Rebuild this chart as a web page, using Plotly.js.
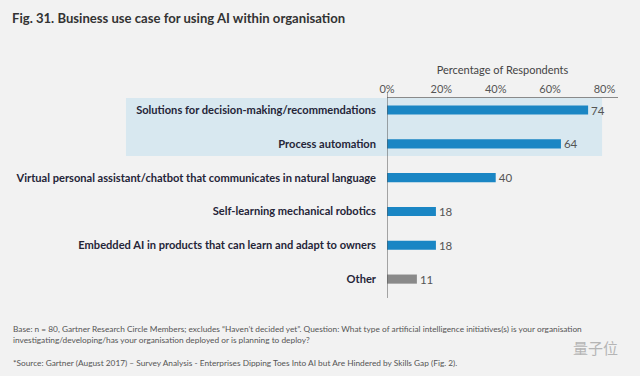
<!DOCTYPE html>
<html><head><meta charset="utf-8">
<script src="https://cdn.plot.ly/plotly-3.0.1.min.js"></script>
<style>html,body{margin:0;padding:0;background:#f2f2f2;}</style>
</head><body><div id="chart" style="width:640px;height:376px;"></div>
<script>
const categories = [
  "Solutions for decision-making/recommendations",
  "Process automation",
  "Virtual personal assistant/chatbot that communicates in natural language",
  "Self-learning mechanical robotics",
  "Embedded AI in products that can learn and adapt to owners",
  "Other"
];
const values = [74, 64, 40, 18, 18, 11];
const barColors = ["#1a86c4", "#1a86c4", "#1a86c4", "#1a86c4", "#1a86c4", "#8a8a8a"];
const tickValues = [0, 20, 40, 60, 80];
const tickLabels = ["0%", "20%", "40%", "60%", "80%"];

const trace = {
  type: "bar", orientation: "h",
  y: categories, x: values,
  marker: {color: barColors},
  width: 0.27,
  text: values.map(String), textposition: "outside", constraintext: "none",
  textfont: {family: "Lato, 'Open Sans', sans-serif", size: 11.5, color: "#555"},
  cliponaxis: false, hoverinfo: "none"
};

const layout = {
  width: 640, height: 376,
  paper_bgcolor: "#f2f2f2", plot_bgcolor: "rgba(0,0,0,0)",
  margin: {l: 387, r: 22, t: 98, b: 80},
  showlegend: false,
  font: {family: "Lato, 'Open Sans', sans-serif"},
  xaxis: {
    side: "top", range: [0, 85], tickvals: tickValues, ticktext: tickLabels,
    showgrid: false, zeroline: false, showline: true, linecolor: "#8a8a8a", linewidth: 1,
    ticks: "", tickfont: {size: 11, color: "#555"},
    title: {text: "Percentage of Respondents", font: {size: 11, color: "#444"}, standoff: 4},
    fixedrange: true
  },
  yaxis: {
    range: [5.5, -0.355], showgrid: false, zeroline: false, showline: false, ticks: "",
    tickfont: {size: 11.1, color: "#252538", weight: "bold"},
    ticklabelstandoff: 10, fixedrange: true
  },
  shapes: [
    {type: "rect", xref: "paper", yref: "paper", x0: -1.13, x1: 0.931, y0: 0.707, y1: 1,
     fillcolor: "#d8e8f0", line: {width: 0}, layer: "below"},
    {type: "line", xref: "x", yref: "paper", x0: 0, x1: 0, y0: -0.01, y1: 1.03,
     line: {color: "#555", width: 1}}
  ],
  annotations: [
    {xref: "paper", yref: "paper", x: -1.632, y: 1.404, xanchor: "left", yanchor: "middle", showarrow: false,
     text: "Fig. 31. Business use case for using AI within organisation",
     font: {size: 13.1, color: "#333", weight: "bold", family: "Lato, 'Open Sans', sans-serif"}},
    {xref: "paper", yref: "paper", x: -1.628, y: -0.192, xanchor: "left", yanchor: "middle", showarrow: false, align: "left",
     text: "Base: n = 80, Gartner Research Circle Members; excludes \u201cHaven\u2019t decided yet\u201d. Question: What type of artificial intelligence initiatives(s) is your organisation<br>investigating/developing/has your organisation deployed or is planning to deploy?",
     font: {size: 8.3, color: "#555"}},
    {xref: "paper", yref: "paper", x: -1.628, y: -0.338, xanchor: "left", yanchor: "middle", showarrow: false,
     text: "*Source: Gartner (August 2017) \u2013 Survey Analysis - Enterprises Dipping Toes Into AI but Are Hindered by Skills Gap (Fig. 2).",
     font: {size: 8.3, color: "#555"}},
    {xref: "paper", yref: "paper", x: 1.009, y: -0.258, xanchor: "right", yanchor: "middle", showarrow: false,
     text: "量子位", font: {size: 15, color: "#b5b5b5", family: "Noto Sans CJK SC"}}
  ]
};

Plotly.newPlot("chart", [trace], layout, {staticPlot: true, displayModeBar: false});
</script></body></html>
